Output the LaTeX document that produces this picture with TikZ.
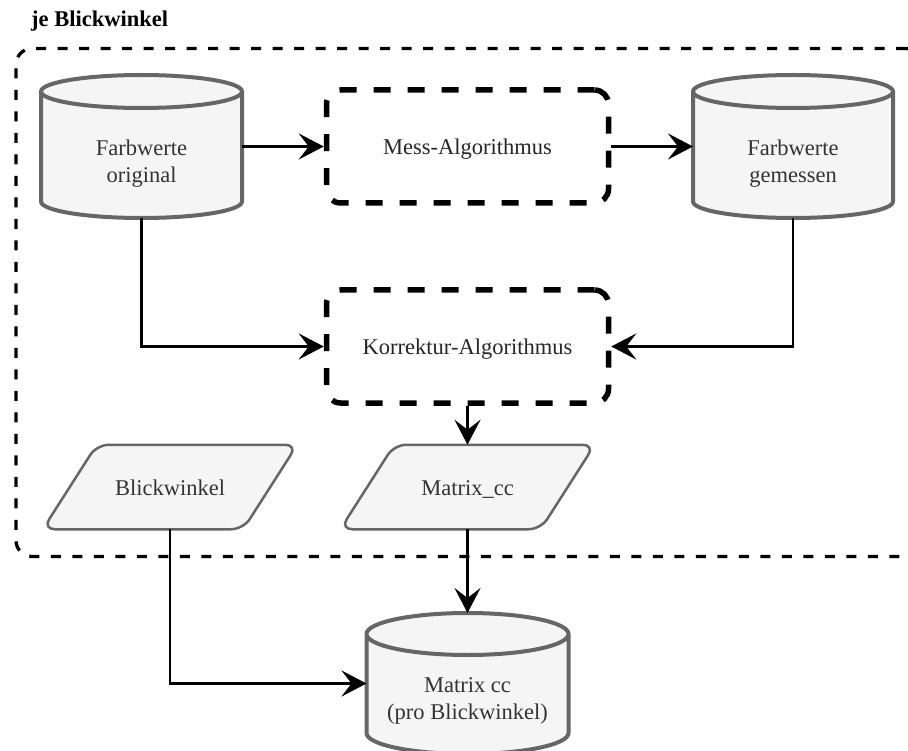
\documentclass[tikz,border=0pt]{standalone}
\usepackage{fontspec}
\setmainfont{Liberation Serif}
\usetikzlibrary{arrows.meta,calc,backgrounds}

\definecolor{shapefill}{HTML}{F5F5F5}
\definecolor{shapeline}{HTML}{666666}
\definecolor{labeltext}{HTML}{333333}

\tikzset{
  lbl/.style={font=\fontsize{22.5}{26.5}\selectfont, text=labeltext, align=center, inner sep=0pt},
  onelinetext/.style={text height=16pt, text depth=0pt},
  frame/.style={draw=black, line width=3.3pt, dash pattern=on 10pt off 11.5pt,
    rounded corners=16pt, inner sep=0pt},
  stepbox/.style={lbl, onelinetext, text=black!85, draw=black, line width=5.5pt,
    dash pattern=on 17pt off 17pt, rounded corners=14pt,
    minimum width=282pt, minimum height=113pt},
  drum/.style={inner sep=0pt, outer sep=2pt},
  drumline/.style={fill=shapefill, draw=shapeline, line width=4pt},
  slantbox/.style={lbl, onelinetext, minimum width=252pt, minimum height=82pt, outer sep=1.25pt},
  slantline/.style={fill=shapefill, draw=shapeline, line width=2.5pt,
    rounded corners=12pt, line join=round},
  flow/.style={draw=black, line width=2.6pt,
    -{Stealth[length=25pt, width=26pt, inset=10pt]}},
}

% cylinder outline around a node: #1 node name, #2 half height of the end ellipses
\newcommand\drumoutline[2]{%
  \begin{scope}[on background layer]
    \path[drumline] let \p1=(#1.north west), \p2=(#1.south east),
        \n1={(\x2-\x1)/2} in
      (\x1,\y1-#2) -- (\x1,\y2+#2)
      arc[start angle=180, end angle=360, x radius=\n1, y radius=#2]
      -- (\x2,\y1-#2)
      arc[start angle=0, end angle=180, x radius=\n1, y radius=#2]
      -- cycle
      (\x1,\y1-#2)
      arc[start angle=180, end angle=360, x radius=\n1, y radius=#2];
  \end{scope}}

% parallelogram outline around a node: #1 node name, #2 horizontal slant
\newcommand\slantoutline[2]{%
  \begin{scope}[on background layer]
    \path[slantline] (#1.south west) -- ([xshift=#2]#1.north west)
      -- (#1.north east) -- ([xshift=-#2]#1.south east) -- cycle;
  \end{scope}}

\begin{document}
\begin{tikzpicture}[x=1pt, y=-1pt]
  \useasboundingbox (0,0) rectangle (908,751);

  % group frame and its caption
  \node[frame, minimum width=906pt, minimum height=508pt] (grp) at (469,302.5) {};
  \node[font=\fontsize{22.5}{26.5}\selectfont\bfseries, anchor=base west, inner sep=0pt]
    (title) at (31,27) {je Blickwinkel};

  % data stores
  \node[drum, minimum width=197pt, minimum height=139pt] (fo) at (141.5,146.5) {};
  \node[drum, minimum width=196pt, minimum height=139pt] (fg) at (793,146.5) {};
  \node[drum, minimum width=198pt, minimum height=137pt] (mbw) at (467.5,683.5) {};
  \drumoutline{fo}{16.5pt}
  \drumoutline{fg}{16.5pt}
  \drumoutline{mbw}{21pt}
  \node[lbl] (fo-label) at (141.5,163.7) {Farbwerte\\original};
  \node[lbl] (fg-label) at (793,163.7) {Farbwerte\\gemessen};
  \node[lbl] (mbw-label) at (467.5,701) {Matrix cc\\(pro Blickwinkel)};

  % processing steps
  \node[stepbox] (mess) at (467.5,146.5) {Mess-Algorithmus};
  \node[stepbox] (korr) at (467.5,346.5) {Korrektur-Algorithmus};

  % inputs / outputs
  \node[slantbox] (blick) at (170,487) {Blickwinkel};
  \node[slantbox] (mcc) at (467.5,487) {Matrix\_cc};
  \slantoutline{blick}{54pt}
  \slantoutline{mcc}{54pt}

  % connectors
  \draw[flow] (fo.east) -- (fo.east -| mess.west);
  \draw[flow] (mess.east) -- (mess.east -| fg.west);
  \draw[flow] (fo.south) |- (korr.west);
  \draw[flow] (fg.south) |- (korr.east);
  \draw[flow] (korr.south) -- (korr.south |- mcc.north);
  \draw[flow] (mcc.south) -- (mcc.south |- mbw.north);
  \draw[flow] (blick.south) |- (mbw.west);
\end{tikzpicture}
\end{document}
